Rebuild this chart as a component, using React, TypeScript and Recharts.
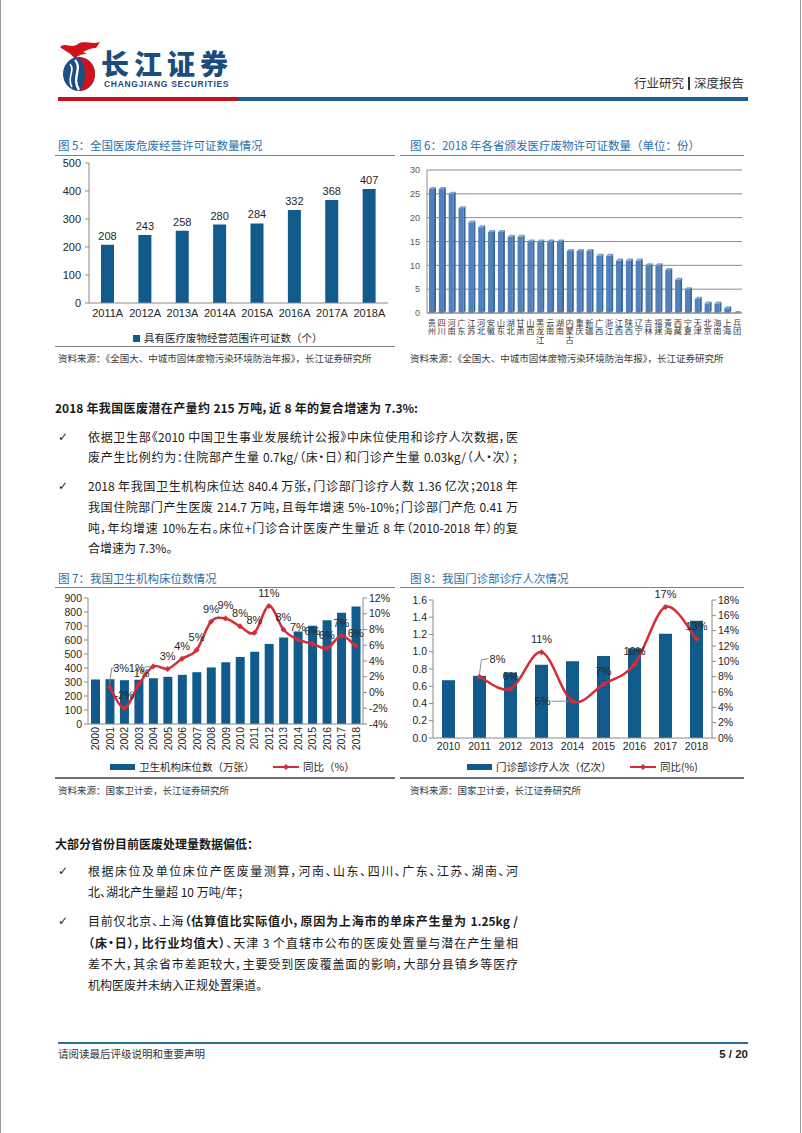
import React from "react";
import {
  BarChart,
  Bar,
  XAxis,
  YAxis,
  LabelList,
  CartesianGrid,
  ComposedChart,
  Line,
} from "recharts";

const FONT_CN = '"Noto Sans CJK SC", "Noto Sans", sans-serif';
const FONT_NUM = '"Liberation Sans", Arial, sans-serif';
const BAR_BLUE = "#115a8c";
const LINE_RED = "#d52d35";
const TITLE_BLUE = "#2a6ead";
const AXIS_GRAY = "#8a8a8a";

// 图5 全国医废危废经营许可证数量
const licenseYears = ["2011A", "2012A", "2013A", "2014A", "2015A", "2016A", "2017A", "2018A"];
const licenseCounts = [208, 243, 258, 280, 284, 332, 368, 407];

// 图6 2018年各省颁发医疗废物许可证数量
const provinces = [
  "贵州", "四川", "河南", "广东", "江苏", "河北", "安徽", "山东", "湖北", "甘肃", "山西",
  "黑龙江", "云南", "湖南", "内蒙古", "重庆", "新疆", "广西", "浙江", "江西", "陕西", "辽宁",
  "吉林", "福建", "青海", "西藏", "宁夏", "天津", "北京", "海南", "上海", "兵团",
];
const provinceLicenses = [26, 26, 25, 22, 19, 18, 17, 17, 16, 16, 15, 15, 15, 15, 13, 13, 13, 12, 12, 11, 11, 11, 10, 10, 9, 7, 5, 3, 2, 2, 1, 0];

// 图7 卫生机构床位数（万张）及同比
const bedYears = ["2000", "2001", "2002", "2003", "2004", "2005", "2006", "2007", "2008", "2009", "2010", "2011", "2012", "2013", "2014", "2015", "2016", "2017", "2018"];
const bedCounts = [318, 320, 313, 316, 327, 337, 351, 370, 404, 441, 479, 516, 572, 618, 660, 702, 741, 794, 840];
const bedGrowth = [null, 0.7, -2.0, 1.0, 3.3, 3.0, 4.3, 5.4, 9.0, 9.4, 8.4, 7.6, 11.0, 8.0, 6.7, 6.2, 5.6, 7.2, 5.9];

// 图8 门诊部诊疗人次（亿次）及同比
const visitYears = ["2010", "2011", "2012", "2013", "2014", "2015", "2016", "2017", "2018"];
const visitCounts = [0.67, 0.72, 0.76, 0.85, 0.89, 0.95, 1.04, 1.21, 1.36];
const visitGrowth = [null, 8.0, 6.4, 11.2, 4.8, 7.0, 9.6, 17.1, 12.9];

const licenseData = licenseYears.map((year, i) => ({ year, count: licenseCounts[i] }));
const provinceData = provinces.map((name, i) => ({ name, count: provinceLicenses[i] }));
const bedData = bedYears.map((year, i) => ({ year, beds: bedCounts[i], growth: bedGrowth[i] }));
const visitData = visitYears.map((year, i) => ({ year, visits: visitCounts[i], growth: visitGrowth[i] }));

// label placement tweaks (reference has a few labels moved off their points)
const bedLabelOffsets: Record<number, { dx: number; dy: number; leader?: number[][] }> = {
  1: { dx: 27, dy: -19, leader: [[0, -3], [2, -19], [7, -19]] },
  3: { dx: 3, dy: -12 },
  4: { dx: -32, dy: 1, leader: [[-14, 1], [-2, 0]] },
};
const visitLabelOffsets: Record<number, { dx: number; dy: number; leader?: number[][] }> = {
  1: { dx: 18, dy: -18, leader: [[0, -3], [2, -17], [9, -18]] },
  4: { dx: -30, dy: 0, leader: [[-21, 0], [-4, 0]] },
};

// Excel-like smoothed line (Catmull-Rom through the points)
function excelCurve(context: any) {
  let pts: number[][] = [];
  return {
    areaStart() {},
    areaEnd() {},
    lineStart() {
      pts = [];
    },
    lineEnd() {
      if (!pts.length) return;
      context.moveTo(pts[0][0], pts[0][1]);
      for (let i = 0; i < pts.length - 1; i++) {
        const p0 = pts[Math.max(i - 1, 0)];
        const p1 = pts[i];
        const p2 = pts[i + 1];
        const p3 = pts[Math.min(i + 2, pts.length - 1)];
        context.bezierCurveTo(
          p1[0] + (p2[0] - p0[0]) / 6,
          p1[1] + (p2[1] - p0[1]) / 6,
          p2[0] - (p3[0] - p1[0]) / 6,
          p2[1] - (p3[1] - p1[1]) / 6,
          p2[0],
          p2[1]
        );
      }
    },
    point(x: number, y: number) {
      pts.push([+x, +y]);
    },
  };
}

const makeGrowthLabel = (offsets: Record<number, { dx: number; dy: number; leader?: number[][] }>) => (props: any) => {
  const { x, y, value, index } = props;
  if (value == null || x == null || y == null) return null;
  const o = offsets[index] || { dx: 0, dy: -13 };
  return (
    <g key={`gl-${index}`}>
      {o.leader && (
        <polyline
          points={o.leader.map(([lx, ly]) => `${x + lx},${y + ly}`).join(" ")}
          fill="none"
          stroke="#8c8c8c"
          strokeWidth={1}
        />
      )}
      <text
        x={x + o.dx}
        y={y + o.dy}
        textAnchor="middle"
        dominantBaseline="central"
        fontSize={11}
        fontFamily={FONT_NUM}
        fill="#262626"
      >
        {Math.round(value)}%
      </text>
    </g>
  );
};

const DiamondDot = (props: any) => {
  const { cx, cy, index, value } = props;
  if (cx == null || cy == null || value == null) return <g key={`d-${index}`} />;
  const s = 3;
  return <path key={`d-${index}`} d={`M${cx},${cy - s} L${cx + s},${cy} L${cx},${cy + s} L${cx - s},${cy} Z`} fill={LINE_RED} />;
};

const Bar3D = (props: any) => {
  const { x, y, width, height } = props;
  const d = 2;
  const h = Math.max(height, 0);
  return (
    <g>
      <rect x={x} y={y} width={width} height={h} fill="#4f81bd" />
      <path d={`M${x + width},${y} l${d},${-d} v${h} l${-d},${d} Z`} fill="#3b6594" />
      <path d={`M${x},${y} l${d},${-d} h${width} l${-d},${d} Z`} fill="#7fa2cf" />
    </g>
  );
};

const ProvinceTick = (props: any) => {
  const { x, y, payload } = props;
  const chars = Array.from(String(payload.value));
  return (
    <g>
      {chars.map((c, i) => (
        <text key={i} x={x} y={y + 9 + i * 8.4} textAnchor="middle" dominantBaseline="central" fontSize={8.3} fontFamily={FONT_CN} fill="#3a3a3a">
          {c}
        </text>
      ))}
    </g>
  );
};

const RotatedYearTick = (props: any) => {
  const { x, y, payload } = props;
  return (
    <text transform={`translate(${x},${y + 3}) rotate(-90)`} textAnchor="end" dominantBaseline="central" fontSize={10.5} fontFamily={FONT_NUM} fill="#262626">
      {payload.value}
    </text>
  );
};

const abs = (left: number, top: number): React.CSSProperties => ({ position: "absolute", left, top });

function Rule({ left, top, width, height = 1, color = "#7f7f7f" }: { left: number; top: number; width: number; height?: number; color?: string }) {
  return <div style={{ ...abs(left, top), width, height, background: color }} />;
}

function FigTitle({ left, top, children }: { left: number; top: number; children: React.ReactNode }) {
  return (
    <div style={{ ...abs(left, top), fontSize: 11.5, lineHeight: "14px", color: TITLE_BLUE, fontFamily: FONT_CN, whiteSpace: "nowrap" }}>
      {children}
    </div>
  );
}

function Source({ left, top, children }: { left: number; top: number; children: React.ReactNode }) {
  return (
    <div style={{ ...abs(left, top), fontSize: 9.5, lineHeight: "12px", color: "#3a3a3a", fontFamily: FONT_CN, whiteSpace: "nowrap" }}>
      {children}
    </div>
  );
}

function TextLine({ top, left = 88, width = 430, justify = false, bold = false, children }: { top: number; left?: number; width?: number; justify?: boolean; bold?: boolean; children: React.ReactNode }) {
  return (
    <div
      style={{
        ...abs(left, top - 8),
        width,
        fontSize: 12,
        lineHeight: "16px",
        color: "#1a1a1a",
        fontFamily: FONT_CN,
        fontWeight: bold ? 700 : 400,
        textAlign: "left",
        textAlignLast: justify ? "justify" : "left",
        fontFeatureSettings: '"palt"',
      }}
    >
      {children}
    </div>
  );
}

function Check({ top }: { top: number }) {
  return <div style={{ ...abs(58, top - 8), fontSize: 12, lineHeight: "16px", fontFamily: '"DejaVu Sans", sans-serif', color: "#1a1a1a" }}>✓</div>;
}

function LegendBar({ left, top, width, height, text }: { left: number; top: number; width: number; height: number; text: string }) {
  return (
    <>
      <div style={{ ...abs(left, top - height / 2), width, height, background: BAR_BLUE }} />
      <div style={{ ...abs(left + width + 4, top - 7), fontSize: 10.5, lineHeight: "14px", fontFamily: FONT_CN, color: "#262626", whiteSpace: "nowrap" }}>{text}</div>
    </>
  );
}

function LegendLine({ left, top, text }: { left: number; top: number; text: string }) {
  return (
    <>
      <svg style={abs(left, top - 5)} width={26} height={10}>
        <line x1={0} y1={5} x2={26} y2={5} stroke={LINE_RED} strokeWidth={2} />
        <path d="M13,2 L16,5 L13,8 L10,5 Z" fill={LINE_RED} />
      </svg>
      <div style={{ ...abs(left + 30, top - 7), fontSize: 10.5, lineHeight: "14px", fontFamily: FONT_CN, color: "#262626", whiteSpace: "nowrap" }}>{text}</div>
    </>
  );
}

const numTick = { fontSize: 11, fontFamily: FONT_NUM, fill: "#262626" };

export default function App() {
  return (
    <div style={{ position: "absolute", left: 0, top: 0, width: 802, height: 1133, background: "#fff", overflow: "hidden" }}>
      <style>{`.recharts-surface { overflow: visible; }`}</style>
      <Rule left={0} top={0} width={1} height={1133} color="#9a9a9a" />
      <Rule left={800} top={0} width={1} height={1133} color="#9a9a9a" />

      {/* header */}
      <svg style={abs(56, 40)} width={46} height={52} viewBox="0 0 46 52">
        <path d="M4,7 C10,2 15,9 22,4 C28,0 36,5 44,2 L40,8 C35,8 31,10 27,12 L31,14 C25,14 21,16 19,19 C15,13 9,11 4,7 Z" fill="#d0121b" />
        <ellipse cx={23} cy={34} rx={16} ry={17} fill="#1c4f82" />
        <path d="M23,17 C34,18 39,26 39,34 C39,44 32,51 23,51 C31,44 31,25 23,17 Z" fill="#d0121b" />
        <path d="M19,20 C27,28 15,38 23,50" stroke="#fff" strokeWidth={2.4} fill="none" />
        <path d="M14,24 C20,30 10,38 16,47" stroke="#fff" strokeWidth={1.6} fill="none" />
      </svg>
      <div style={{ ...abs(101, 49), fontSize: 28, lineHeight: "28px", fontWeight: 900, letterSpacing: 5, color: "#1b4c7e", fontFamily: FONT_CN, whiteSpace: "nowrap" }}>长江证券</div>
      <div style={{ ...abs(104, 79), fontSize: 8.5, lineHeight: "10px", fontWeight: 700, letterSpacing: 0.7, color: "#1b4c7e", fontFamily: FONT_NUM, whiteSpace: "nowrap" }}>
        CHANGJIANG SECURITIES
      </div>
      <div style={{ ...abs(634, 75), fontSize: 12.5, lineHeight: "16px", color: "#333", fontFamily: FONT_CN, whiteSpace: "nowrap", display: "flex", alignItems: "center" }}>
        行业研究
        <span style={{ display: "inline-block", width: 2, height: 13, background: "#333", margin: "0 4px" }} />
        深度报告
      </div>
      <Rule left={58} top={97} width={180} height={4} color="#c4121c" />
      <Rule left={238} top={97} width={510} height={4} color="#1f5c97" />

      {/* 图5 */}
      <FigTitle left={58} top={138}>图 5：全国医废危废经营许可证数量情况</FigTitle>
      <Rule left={55} top={155} width={340} />
      <div style={abs(55, 158)}>
        <BarChart width={340} height={167} data={licenseData} margin={{ top: 5, right: 7, bottom: 0, left: 0 }}>
          <XAxis dataKey="year" height={22} interval={0} tickLine={false} tickSize={4} tickMargin={2} axisLine={{ stroke: AXIS_GRAY }} tick={numTick} />
          <YAxis width={34} interval={0} domain={[0, 500]} ticks={[0, 100, 200, 300, 400, 500]} axisLine={{ stroke: AXIS_GRAY }} tickLine={{ stroke: AXIS_GRAY }} tickSize={4} tickMargin={4} tick={numTick} />
          <Bar dataKey="count" fill={BAR_BLUE} barSize={13} isAnimationActive={false}>
            <LabelList dataKey="count" position="top" offset={5} style={{ fontSize: 11, fontFamily: FONT_NUM, fill: "#262626" }} />
          </Bar>
        </BarChart>
      </div>
      <LegendBar left={133} top={338} width={7} height={7} text="具有医疗废物经营范围许可证数（个）" />
      <Rule left={55} top={346} width={340} />
      <Source left={58} top={352}>资料来源：《全国大、中城市固体废物污染环境防治年报》，长江证券研究所</Source>

      {/* 图6 */}
      <FigTitle left={410} top={138}>图 6：2018 年各省颁发医疗废物许可证数量（单位：份）</FigTitle>
      <Rule left={400} top={155} width={344} />
      <div style={abs(400, 165)}>
        <BarChart width={345} height={185} data={provinceData} margin={{ top: 5, right: 3, bottom: 0, left: 0 }} barCategoryGap="45%">
          <CartesianGrid horizontal vertical={false} stroke="#8c8c8c" />
          <XAxis dataKey="name" height={37} interval={0} tickLine={false} tickSize={0} tickMargin={0} axisLine={{ stroke: "#8c8c8c" }} tick={<ProvinceTick />} />
          <YAxis width={27} interval={0} domain={[0, 30]} ticks={[0, 5, 10, 15, 20, 25, 30]} axisLine={{ stroke: "#8c8c8c" }} tickLine={false} tickSize={0} tickMargin={7} tick={{ fontSize: 9, fontFamily: FONT_NUM, fill: "#595959" }} />
          <Bar dataKey="count" barSize={5} shape={<Bar3D />} isAnimationActive={false} />
        </BarChart>
      </div>
      <Source left={410} top={352}>资料来源：《全国大、中城市固体废物污染环境防治年报》，长江证券研究所</Source>

      {/* 正文 1 */}
      <TextLine top={408} left={55} width={363} bold justify>2018 年我国医废潜在产量约 215 万吨，近 8 年的复合增速为 7.3%:</TextLine>
      <Check top={437} />
      <TextLine top={437} justify>依据卫生部《2010 中国卫生事业发展统计公报》中床位使用和诊疗人次数据，医</TextLine>
      <TextLine top={457} justify>废产生比例约为：住院部产生量 0.7kg/（床·日）和门诊产生量 0.03kg/（人·次）；</TextLine>
      <Check top={486} />
      <TextLine top={486} justify>2018 年我国卫生机构床位达 840.4 万张，门诊部门诊疗人数 1.36 亿次；2018 年</TextLine>
      <TextLine top={507} justify>我国住院部门产生医废 214.7 万吨，且每年增速 5%-10%；门诊部门产危 0.41 万</TextLine>
      <TextLine top={528} justify>吨，年均增速 10%左右。床位+门诊合计医废产生量近 8 年（2010-2018 年）的复</TextLine>
      <TextLine top={548}>合增速为 7.3%。</TextLine>

      {/* 图7 */}
      <FigTitle left={58} top={571}>图 7：我国卫生机构床位数情况</FigTitle>
      <Rule left={55} top={587} width={340} />
      <div style={abs(55, 590)}>
        <ComposedChart width={340} height={164} data={bedData} margin={{ top: 8, right: 0, bottom: 0, left: 0 }}>
          <XAxis dataKey="year" height={30} interval={0} tickLine={false} tickSize={0} tickMargin={0} axisLine={{ stroke: AXIS_GRAY }} tick={<RotatedYearTick />} />
          <YAxis yAxisId="left" width={33} interval={0} domain={[0, 900]} ticks={[0, 100, 200, 300, 400, 500, 600, 700, 800, 900]} axisLine={{ stroke: AXIS_GRAY }} tickLine={{ stroke: AXIS_GRAY }} tickSize={4} tickMargin={2} tick={{ ...numTick, fontSize: 10.5 }} />
          <YAxis yAxisId="right" orientation="right" width={32} interval={0} domain={[-4, 12]} ticks={[-4, -2, 0, 2, 4, 6, 8, 10, 12]} tickFormatter={(v: number) => `${v}%`} axisLine={{ stroke: AXIS_GRAY }} tickLine={{ stroke: AXIS_GRAY }} tickSize={4} tickMargin={2} tick={{ ...numTick, fontSize: 10.5 }} />
          <Bar yAxisId="left" dataKey="beds" fill={BAR_BLUE} barSize={9} isAnimationActive={false} />
          <Line yAxisId="right" dataKey="growth" type={excelCurve as any} stroke={LINE_RED} strokeWidth={2.5} dot={<DiamondDot />} activeDot={false} connectNulls={false} isAnimationActive={false}>
            <LabelList dataKey="growth" content={makeGrowthLabel(bedLabelOffsets)} />
          </Line>
        </ComposedChart>
      </div>
      <LegendBar left={110} top={767} width={25} height={6} text="卫生机构床位数（万张）" />
      <LegendLine left={273} top={767} text="同比（%）" />
      <Rule left={55} top={777} width={340} height={2} color="#6f6f6f" />
      <Source left={58} top={784}>资料来源：国家卫计委，长江证券研究所</Source>

      {/* 图8 */}
      <FigTitle left={410} top={571}>图 8：我国门诊部诊疗人次情况</FigTitle>
      <Rule left={400} top={587} width={344} />
      <div style={abs(400, 590)}>
        <ComposedChart width={345} height={168} data={visitData} margin={{ top: 10, right: 0, bottom: 0, left: 0 }}>
          <XAxis dataKey="year" height={20} interval={0} tickLine={false} tickSize={3} tickMargin={2} axisLine={{ stroke: AXIS_GRAY }} tick={{ ...numTick, fontSize: 10.5 }} />
          <YAxis yAxisId="left" width={33} interval={0} domain={[0, 1.6]} ticks={[0, 0.2, 0.4, 0.6, 0.8, 1.0, 1.2, 1.4, 1.6]} tickFormatter={(v: number) => v.toFixed(1)} axisLine={{ stroke: AXIS_GRAY }} tickLine={{ stroke: AXIS_GRAY }} tickSize={4} tickMargin={2} tick={{ ...numTick, fontSize: 10.5 }} />
          <YAxis yAxisId="right" orientation="right" width={33} interval={0} domain={[0, 18]} ticks={[0, 2, 4, 6, 8, 10, 12, 14, 16, 18]} tickFormatter={(v: number) => `${v}%`} axisLine={{ stroke: AXIS_GRAY }} tickLine={{ stroke: AXIS_GRAY }} tickSize={4} tickMargin={2} tick={{ ...numTick, fontSize: 10.5 }} />
          <Bar yAxisId="left" dataKey="visits" fill={BAR_BLUE} barSize={13} isAnimationActive={false} />
          <Line yAxisId="right" dataKey="growth" type={excelCurve as any} stroke={LINE_RED} strokeWidth={2.5} dot={<DiamondDot />} activeDot={false} connectNulls={false} isAnimationActive={false}>
            <LabelList dataKey="growth" content={makeGrowthLabel(visitLabelOffsets)} />
          </Line>
        </ComposedChart>
      </div>
      <LegendBar left={467} top={767} width={25} height={6} text="门诊部诊疗人次（亿次）" />
      <LegendLine left={630} top={767} text="同比(%)" />
      <Rule left={400} top={777} width={344} height={2} color="#6f6f6f" />
      <Source left={410} top={784}>资料来源：国家卫计委，长江证券研究所</Source>

      {/* 正文 2 */}
      <TextLine top={844} left={55} width={260} bold>大部分省份目前医废处理量数据偏低：</TextLine>
      <Check top={871} />
      <TextLine top={871} justify>根据床位及单位床位产医废量测算，河南、山东、四川、广东、江苏、湖南、河</TextLine>
      <TextLine top={892}>北、湖北产生量超 10 万吨/年；</TextLine>
      <Check top={921} />
      <TextLine top={921} justify>
        目前仅北京、上海<b>（估算值比实际值小，原因为上海市的单床产生量为 1.25kg /</b>
      </TextLine>
      <TextLine top={943} justify>
        <b>（床·日），比行业均值大）</b>、天津 3 个直辖市公布的医废处置量与潜在产生量相
      </TextLine>
      <TextLine top={964} justify>差不大，其余省市差距较大，主要受到医废覆盖面的影响，大部分县镇乡等医疗</TextLine>
      <TextLine top={985}>机构医废并未纳入正规处置渠道。</TextLine>

      {/* footer */}
      <Rule left={58} top={1042} width={690} height={1.5} color="#2a6f97" />
      <div style={{ ...abs(58, 1047), fontSize: 10.5, lineHeight: "14px", color: "#333", fontFamily: FONT_CN, whiteSpace: "nowrap" }}>请阅读最后评级说明和重要声明</div>
      <div style={{ ...abs(688, 1047), width: 60, textAlign: "right", fontSize: 11.5, lineHeight: "14px", fontWeight: 700, color: "#222", fontFamily: FONT_NUM }}>5 / 20</div>
    </div>
  );
}
